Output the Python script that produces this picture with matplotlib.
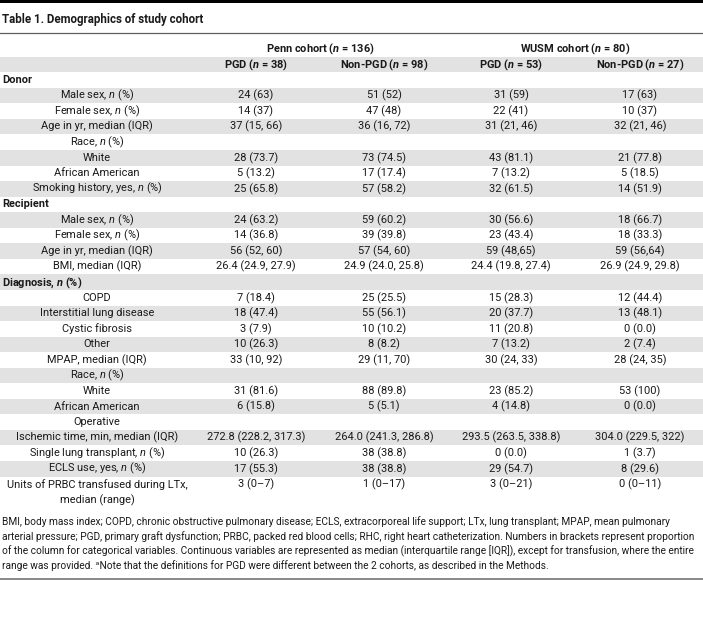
import matplotlib
matplotlib.use("Agg")
import matplotlib.pyplot as plt
from matplotlib.patches import Rectangle

plt.rcParams['font.family'] = ['Roboto', 'DejaVu Sans']
plt.rcParams['mathtext.fontset'] = 'custom'
plt.rcParams['mathtext.it'] = 'Roboto:italic'
plt.rcParams['mathtext.rm'] = 'Roboto'
plt.rcParams['mathtext.bf'] = 'Roboto:bold'
plt.rcParams['mathtext.bfit'] = 'Roboto:bold:italic'

N = r'$\it{n}$'
NB = r'$\mathbfit{n}$'

title = "Table 1. Demographics of study cohort"
cohorts = ["Penn cohort (" + NB + " = 136)", "WUSM cohort (" + NB + " = 80)"]
groups = ["PGD (" + NB + " = 38)", "Non-PGD (" + NB + " = 98)",
          "PGD (" + NB + " = 53)", "Non-PGD (" + NB + " = 27)"]

# (label, is_section_header)
row_labels = [
    ("Donor", True),
    ("Male sex, " + N + " (%)", False),
    ("Female sex, " + N + " (%)", False),
    ("Age in yr, median (IQR)", False),
    ("Race, " + N + " (%)", False),
    ("White", False),
    ("African American", False),
    ("Smoking history, yes, " + N + " (%)", False),
    ("Recipient", True),
    ("Male sex, " + N + " (%)", False),
    ("Female sex, " + N + " (%)", False),
    ("Age in yr, median (IQR)", False),
    ("BMI, median (IQR)", False),
    ("Diagnosis, " + NB + " (%)", True),
    ("COPD", False),
    ("Interstitial lung disease", False),
    ("Cystic fibrosis", False),
    ("Other", False),
    ("MPAP, median (IQR)", False),
    ("Race, " + N + " (%)", False),
    ("White", False),
    ("African American", False),
    ("Operative", False),
    ("Ischemic time, min, median (IQR)", False),
    ("Single lung transplant, " + N + " (%)", False),
    ("ECLS use, yes, " + N + " (%)", False),
    ("Units of PRBC transfused during LTx,\nmedian (range)", False),
]

penn_pgd = ["", "24 (63)", "14 (37)", "37 (15, 66)", "", "28 (73.7)", "5 (13.2)", "25 (65.8)",
            "", "24 (63.2)", "14 (36.8)", "56 (52, 60)", "26.4 (24.9, 27.9)",
            "", "7 (18.4)", "18 (47.4)", "3 (7.9)", "10 (26.3)", "33 (10, 92)", "",
            "31 (81.6)", "6 (15.8)", "", "272.8 (228.2, 317.3)", "10 (26.3)", "17 (55.3)", "3 (0–7)"]
penn_non = ["", "51 (52)", "47 (48)", "36 (16, 72)", "", "73 (74.5)", "17 (17.4)", "57 (58.2)",
            "", "59 (60.2)", "39 (39.8)", "57 (54, 60)", "24.9 (24.0, 25.8)",
            "", "25 (25.5)", "55 (56.1)", "10 (10.2)", "8 (8.2)", "29 (11, 70)", "",
            "88 (89.8)", "5 (5.1)", "", "264.0 (241.3, 286.8)", "38 (38.8)", "38 (38.8)", "1 (0–17)"]
wusm_pgd = ["", "31 (59)", "22 (41)", "31 (21, 46)", "", "43 (81.1)", "7 (13.2)", "32 (61.5)",
            "", "30 (56.6)", "23 (43.4)", "59 (48,65)", "24.4 (19.8, 27.4)",
            "", "15 (28.3)", "20 (37.7)", "11 (20.8)", "7 (13.2)", "30 (24, 33)", "",
            "23 (85.2)", "4 (14.8)", "", "293.5 (263.5, 338.8)", "0 (0.0)", "29 (54.7)", "3 (0–21)"]
wusm_non = ["", "17 (63)", "10 (37)", "32 (21, 46)", "", "21 (77.8)", "5 (18.5)", "14 (51.9)",
            "", "18 (66.7)", "18 (33.3)", "59 (56,64)", "26.9 (24.9, 29.8)",
            "", "12 (44.4)", "13 (48.1)", "0 (0.0)", "2 (7.4)", "28 (24, 35)", "",
            "53 (100)", "0 (0.0)", "", "304.0 (229.5, 322)", "1 (3.7)", "8 (29.6)", "0 (0–11)"]

footnote = [
    "BMI, body mass index; COPD, chronic obstructive pulmonary disease; ECLS, extracorporeal life support; LTx, lung transplant; MPAP, mean pulmonary",
    "arterial pressure; PGD, primary graft dysfunction; PRBC, packed red blood cells; RHC, right heart catheterization. Numbers in brackets represent proportion",
    "of the column for categorical variables. Continuous variables are represented as median (interquartile range [IQR]), except for transfusion, where the entire",
    "range was provided. ᵃNote that the definitions for PGD were different between the 2 cohorts, as described in the Methods.",
]

W, H = 703, 633
fig = plt.figure(figsize=(W / 100, H / 100), dpi=100)
ax = fig.add_axes([0, 0, 1, 1])
ax.set_xlim(0, W)
ax.set_ylim(H, 0)
ax.axis('off')

TXT = '#1a1a1a'
BAND = '#e2e2e2'
FS = 7.9
label_x = 97
col_x = [256, 384, 511, 640]
pitch = 15.55
y0 = 64.5  # center of group-header row

# top thick bar
ax.add_patch(Rectangle((0, 0), W, 3.2, color='black', lw=0))
ax.text(2, 19.5, title, fontsize=8.3, fontweight='bold', va='center', ha='left', color=TXT)
ax.plot([0, W], [33, 33], color='#606060', lw=0.9)

# cohort headers
ax.text((col_x[0] + col_x[1]) / 2, 49, cohorts[0], fontsize=FS, fontweight='bold', ha='center', va='center', color=TXT)
ax.text((col_x[2] + col_x[3]) / 2, 49, cohorts[1], fontsize=FS, fontweight='bold', ha='center', va='center', color=TXT)

# group header row (shaded)
ax.add_patch(Rectangle((0, y0 - pitch / 2), W, pitch, color=BAND, lw=0))
for cx, g in zip(col_x, groups):
    ax.text(cx, y0, g, fontsize=FS, fontweight='bold', ha='center', va='center', color=TXT)

cols = [penn_pgd, penn_non, wusm_pgd, wusm_non]
for i, (lab, hdr) in enumerate(row_labels):
    idx = i + 1
    yc = y0 + idx * pitch
    multiline = '\n' in lab
    if idx % 2 == 0:
        ax.add_patch(Rectangle((0, yc - pitch / 2), W, pitch, color=BAND, lw=0))
    if hdr:
        ax.text(2, yc, lab, fontsize=FS, fontweight='bold', ha='left', va='center', color=TXT)
    elif multiline:
        l1, l2 = lab.split('\n')
        ax.text(label_x, yc, l1, fontsize=FS, ha='center', va='center', color=TXT)
        ax.text(label_x, yc + pitch, l2, fontsize=FS, ha='center', va='center', color=TXT)
    else:
        ax.text(label_x, yc, lab, fontsize=FS, ha='center', va='center', color=TXT)
    for cx, col in zip(col_x, cols):
        if col[i]:
            ax.text(cx, yc, col[i], fontsize=FS, ha='center', va='center', color=TXT)

fy = 522
for k, line in enumerate(footnote):
    ax.text(2, fy + k * 14.6, line, fontsize=7.25, ha='left', va='center', color=TXT)

ax.plot([0, W], [579, 579], color='#6a6a6a', lw=1.1)

fig.savefig('out.png', dpi=100)
